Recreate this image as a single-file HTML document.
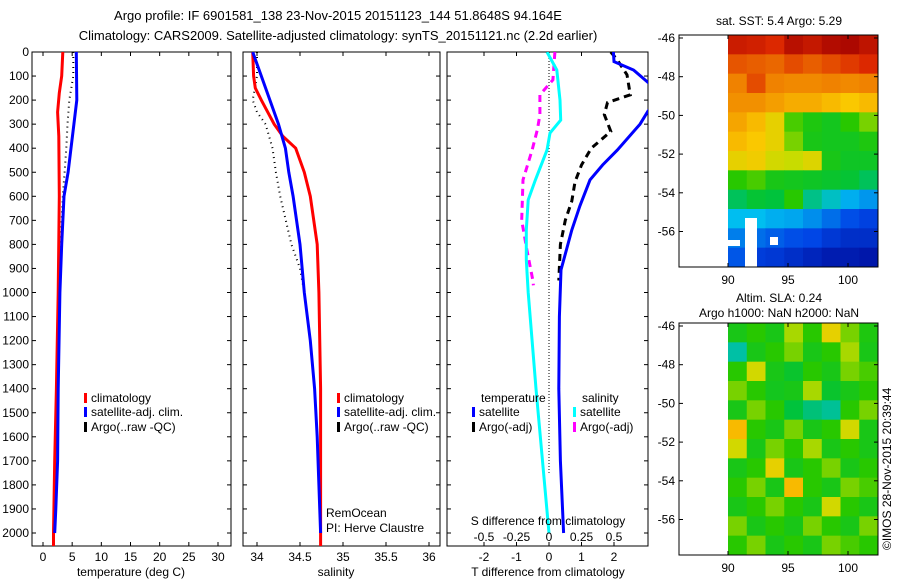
<!DOCTYPE html>
<html><head><meta charset="utf-8"><style>
body{margin:0;background:#fff;}
svg{display:block;font-family:"Liberation Sans",sans-serif;font-size:12px;}
</style></head><body>
<svg id="c" width="900" height="580" viewBox="0 0 900 580">
<text x="338" y="20" text-anchor="middle" style="font-size:13px">Argo profile: IF 6901581_138 23-Nov-2015 20151123_144 51.8648S 94.164E</text>
<text x="338" y="40" text-anchor="middle" style="font-size:13px">Climatology: CARS2009. Satellite-adjusted climatology: synTS_20151121.nc (2.2d earlier)</text>
<text x="779" y="25" text-anchor="middle">sat. SST: 5.4  Argo: 5.29</text>
<text x="779" y="302" text-anchor="middle">Altim. SLA: 0.24</text>
<text x="779" y="317" text-anchor="middle">Argo h1000: NaN h2000: NaN</text>
<text transform="translate(891,550) rotate(-90)">©IMOS 28-Nov-2015 20:39:44</text>
<g id="g"></g>
</svg>
<script>
// ---- data ----
const depthTicks=[0,100,200,300,400,500,600,700,800,900,1000,1100,1200,1300,1400,1500,1600,1700,1800,1900,2000];
const tTicks=[0,5,10,15,20,25,30];
const sTicks=[34,34.5,35,35.5,36];
const dTTicks=[-2,-1,0,1,2];
const dSTicks=[-0.5,-0.25,0,0.25,0.5];
const dSTickLabels=["-0.5","-0.25","0","0.25","0.5"];
const tClimDepth=[0,100,170,250,350,600,1000,1400,1700,2000,2054];
const tClim=[3.4,3.2,2.8,2.5,2.7,2.8,2.6,2.3,2.0,1.8,1.8];
const tSatDepth=[0,200,300,400,500,600,800,1000,1400,1700,1900,2000];
const tSat=[5.7,5.8,5.3,4.8,4.3,3.6,3.2,2.9,2.6,2.5,2.2,2.0];
const tArgoDepth=[0,100,200,300,400,500,600,800,1000];
const tArgo=[5.2,5.2,4.5,4.2,4.0,3.7,3.4,3.0,2.8];
const sClimDepth=[0,100,150,200,300,350,400,500,600,800,1000,1400,2054];
const sClim=[33.95,33.96,33.98,34.05,34.2,34.3,34.45,34.55,34.62,34.7,34.72,34.74,34.74];
const sSatDepth=[0,100,200,300,400,500,600,800,1000,1200,1400,1600,1800,2000];
const sSat=[33.95,34.05,34.15,34.25,34.33,34.37,34.42,34.5,34.55,34.62,34.67,34.7,34.72,34.74];
const sArgoDepth=[0,100,200,250,300,400,500,600,800,900,1000];
const sArgo=[34.0,34.0,33.95,34.0,34.1,34.18,34.22,34.27,34.4,34.5,34.55];
const dTSatDepth=[0,40,75,133,180,245,300,408,470,532,640,740,906,1100,1400,1700,2000];
const dTSat=[1.98,2.0,2.6,3.1,3.5,3.05,2.8,2.1,1.65,1.26,0.95,0.7,0.37,0.32,0.3,0.35,0.45];
const dTArgoDepth=[0,33,95,178,210,260,330,400,470,540,620,700,800,950];
const dTArgo=[1.9,2.1,2.4,2.5,1.8,1.7,1.9,1.3,1.0,0.8,0.7,0.5,0.35,0.3];
const dSSatDepth=[0,75,200,283,337,408,532,615,740,865,1000,1400,1700,2000];
const dSSat=[-0.015,0.06,0.085,0.09,0.008,-0.015,-0.105,-0.16,-0.175,-0.175,-0.16,-0.1,-0.05,0.0];
const dSArgoDepth=[0,116,178,262,324,408,532,700,823,948,970];
const dSArgo=[0.045,0.03,-0.07,-0.07,-0.09,-0.13,-0.2,-0.21,-0.17,-0.125,-0.12];
const lonTicks=[90,95,100];
const latTicks=[-46,-48,-50,-52,-54,-56];
const sstGrid=[
[0.93,0.92,0.9,0.96,0.94,0.97,0.98,0.95],
[0.85,0.84,0.83,0.86,0.84,0.86,0.88,0.9],
[0.8,0.86,0.8,0.79,0.79,0.8,0.79,0.8],
[0.78,0.78,0.76,0.74,0.74,0.72,0.7,0.72],
[0.75,0.72,0.66,0.52,0.48,0.46,0.5,0.55],
[0.72,0.7,0.66,0.55,0.47,0.46,0.46,0.48],
[0.66,0.68,0.62,0.6,0.64,0.47,0.45,0.45],
[0.5,0.52,0.47,0.46,0.45,0.44,0.43,0.4],
[0.4,0.43,0.42,0.5,0.37,0.33,0.28,0.25],
[0.3,0.3,0.28,0.27,0.24,0.2,0.16,0.14],
[0.22,0.2,0.18,0.16,0.15,0.12,0.1,0.1],
[0.17,0.13,0.12,0.1,0.08,0.06,0.06,0.05]];
const slaGrid=[
[0.47,0.5,0.47,0.58,0.5,0.66,0.55,0.48],
[0.35,0.47,0.5,0.55,0.47,0.5,0.58,0.47],
[0.5,0.62,0.47,0.44,0.5,0.47,0.55,0.52],
[0.55,0.5,0.46,0.47,0.58,0.44,0.47,0.5],
[0.47,0.55,0.5,0.42,0.38,0.36,0.5,0.55],
[0.72,0.5,0.47,0.55,0.47,0.5,0.62,0.47],
[0.62,0.47,0.55,0.5,0.58,0.47,0.5,0.47],
[0.47,0.5,0.66,0.47,0.5,0.55,0.47,0.5],
[0.5,0.55,0.47,0.72,0.5,0.47,0.55,0.52],
[0.47,0.5,0.55,0.5,0.47,0.62,0.5,0.47],
[0.55,0.47,0.5,0.47,0.55,0.5,0.47,0.55],
[0.5,0.55,0.47,0.5,0.47,0.55,0.52,0.5]];

const NS='http://www.w3.org/2000/svg';
const G=document.getElementById('g');
function el(t,a,p){const e=document.createElementNS(NS,t);for(const k in a)e.setAttribute(k,a[k]);(p||G).appendChild(e);return e;}
const TOP=52,BOT=546;
const yD=d=>TOP+d*(533-TOP)/2000;
const xT=v=>43+v*(218-43)/30;
const xS=v=>257+(v-34)*86;
const xDT=v=>549+v*32.5;
const xDS=v=>549+v*130;

function frame(x0,x1,name){
  const r=el('rect',{x:x0,y:TOP,width:x1-x0,height:BOT-TOP,fill:'none',stroke:'#000','stroke-width':1});
  
  
}
function xticks(vals,labels,fx,name){
  vals.forEach((v,i)=>{
    const x=fx(v);
    el('line',{x1:x,x2:x,y1:TOP,y2:TOP+4,stroke:'#000'});
    el('line',{x1:x,x2:x,y1:BOT,y2:BOT-4,stroke:'#000'});
    const t=el('text',{x:x,y:561,'text-anchor':'middle'});t.textContent=labels[i];
    
    
  });
}
function yticks(x0,x1,lab){
  depthTicks.forEach(d=>{
    const y=yD(d);
    el('line',{x1:x0,x2:x0+4,y1:y,y2:y,stroke:'#000'});
    el('line',{x1:x1,x2:x1-4,y1:y,y2:y,stroke:'#000'});
    if(lab){const t=el('text',{x:29,y:y+4,'text-anchor':'end'});t.textContent=d;
      
      }
  });
}
function line(ds,vs,fx,color,name,dash,clip,w){
  const pts=ds.map((d,i)=>fx(vs[i]).toFixed(1)+','+yD(d).toFixed(1)).join(' ');
  const a={points:pts,fill:'none',stroke:color,'stroke-width':w||3};
  if(dash)a['stroke-dasharray']=dash;
  if(clip)a['clip-path']='url(#'+clip+')';
  const p=el('polyline',a);
  
  
}
function label(x,y,s,name,anchor){const t=el('text',{x:x,y:y,'text-anchor':anchor||'start'});t.textContent=s;
  
  return t;}
function legend(x,y,color,s,name){
  el('rect',{x:x,y:y-9,width:3,height:10,fill:color});
  label(x+7,y,s,name);
}
const defs=el('defs',{});
[['c1',32,231],['c2',243,440],['c3',447,648]].forEach(c=>{const cp=el('clipPath',{id:c[0]},defs);el('rect',{x:c[1],y:TOP,width:c[2]-c[1],height:BOT-TOP},cp);});

// panel 1
frame(32,231,'temperature-panel');yticks(32,231,true);
xticks(tTicks,tTicks.map(String),xT,'temperature-tick-label');
line(tArgoDepth,tArgo,xT,'#000','temperature-argo-line','1 4','c1',2);
line(tClimDepth,tClim,xT,'#f00','temperature-climatology-line',null,'c1');
line(tSatDepth,tSat,xT,'#00f','temperature-satellite-line',null,'c1');
label(131,576,'temperature (deg C)','temperature-axis-title','middle');
legend(84,402,'#f00','climatology','legend-climatology');
legend(84,416,'#00f','satellite-adj. clim.','legend-satellite');
legend(84,431,'#000','Argo(..raw -QC)','legend-argo');

// panel 2
frame(243,440,'salinity-panel');yticks(243,440,false);
xticks(sTicks,sTicks.map(String),xS,'salinity-tick-label');
line(sArgoDepth,sArgo,xS,'#000','salinity-argo-line','1 4','c2',2);
line(sClimDepth,sClim,xS,'#f00','salinity-climatology-line',null,'c2');
line(sSatDepth,sSat,xS,'#00f','salinity-satellite-line',null,'c2');
label(336,576,'salinity','salinity-axis-title','middle');
legend(337,402,'#f00','climatology','legend-climatology-2');
legend(337,416,'#00f','satellite-adj. clim.','legend-satellite-2');
legend(337,431,'#000','Argo(..raw -QC)','legend-argo-2');
label(326,517,'RemOcean','remocean-label');
label(326,532,'PI: Herve Claustre','pi-label');

// panel 3
frame(447,648,'difference-panel');yticks(447,648,false);
xticks(dTTicks,dTTicks.map(String),xDT,'t-diff-tick-label');
el('line',{x1:549,x2:549,y1:TOP,y2:yD(1750),stroke:'#000','stroke-dasharray':'1 2'});
line(dTArgoDepth,dTArgo,xDT,'#000','t-diff-argo-line','7 5','c3');
line(dTSatDepth,dTSat,xDT,'#00f','t-diff-satellite-line',null,'c3');
line(dSArgoDepth,dSArgo,xDS,'#f0f','s-diff-argo-line','7 5','c3');
line(dSSatDepth,dSSat,xDS,'#0ff','s-diff-satellite-line',null,'c3');
dSTicks.forEach((v,i)=>{label(xDS(v),541,dSTickLabels[i],'s-diff-tick-label','middle');});
label(548,525,'S difference from climatology','s-diff-axis-title','middle');
label(548,576,'T difference from climatology','t-diff-axis-title','middle');
label(481,402,'temperature','legend-temperature-heading');
label(582,402,'salinity','legend-salinity-heading');
legend(472,416,'#00f','satellite','legend-t-satellite');
legend(472,431,'#000','Argo(-adj)','legend-t-argo');
legend(573,416,'#0ff','satellite','legend-s-satellite');
legend(573,431,'#f0f','Argo(-adj)','legend-s-argo');

// maps
const cmStops=[[0,[0,0,140]],[0.15,[0,70,230]],[0.3,[0,190,240]],[0.42,[0,195,60]],[0.5,[40,200,0]],[0.6,[200,220,0]],[0.7,[250,200,0]],[0.8,[240,130,0]],[0.9,[220,40,0]],[1,[160,0,0]]];
function cmap(v){
  for(let i=1;i<cmStops.length;i++){if(v<=cmStops[i][0]){const a=cmStops[i-1],b=cmStops[i],t=(v-a[0])/(b[0]-a[0]);
    return 'rgb('+a[1].map((c,k)=>Math.round(c+(b[1][k]-c)*t)).join(',')+')';}}
  return 'rgb(160,0,0)';
}
const xLon=l=>728+(l-90)*12;
function map(top,grid,name,white){
  const yLat=la=>top+3+(-46-la)*19.35;
  const latTop=-46-(0-3)/19.35, latBot=-46-(232-3)/19.35;
  const rows=grid.length,cols=grid[0].length;
  const lon0=90,lon1=(878-728)/12+90;
  grid.forEach((row,ri)=>row.forEach((v,ci)=>{
    const la0=latTop+(latBot-latTop)*ri/rows, la1=latTop+(latBot-latTop)*(ri+1)/rows;
    const lo0=lon0+(lon1-lon0)*ci/cols, lo1=lon0+(lon1-lon0)*(ci+1)/cols;
    const r=el('rect',{x:xLon(lo0),y:yLat(la0),width:xLon(lo1)-xLon(lo0)+0.5,height:yLat(la1)-yLat(la0)+0.5,fill:cmap(v)});
    
    
  }));
  if(white){el('rect',{x:728,y:top+205,width:12,height:6,fill:'#fff'});el('rect',{x:745,y:top+183,width:12,height:49,fill:'#fff'});el('rect',{x:770,y:top+202,width:8,height:8,fill:'#fff'});}
  const f=el('rect',{x:679,y:top,width:199,height:232,fill:'none',stroke:'#000'});
  
  
  latTicks.forEach(la=>{const y=yLat(la);el('line',{x1:679,x2:683,y1:y,y2:y,stroke:'#000'});el('line',{x1:878,x2:874,y1:y,y2:y,stroke:'#000'});
    label(675,y+4,String(la),name+'-lat-label','end');});
  lonTicks.forEach(lo=>{const x=xLon(lo);el('line',{x1:x,x2:x,y1:top,y2:top+4,stroke:'#000'});el('line',{x1:x,x2:x,y1:top+232,y2:top+228,stroke:'#000'});
    label(x,top+249,String(lo),name+'-lon-label','middle');});
}
map(35,sstGrid,'sst-map',true);
map(323,slaGrid,'sla-map',false);
</script>
</body></html>
